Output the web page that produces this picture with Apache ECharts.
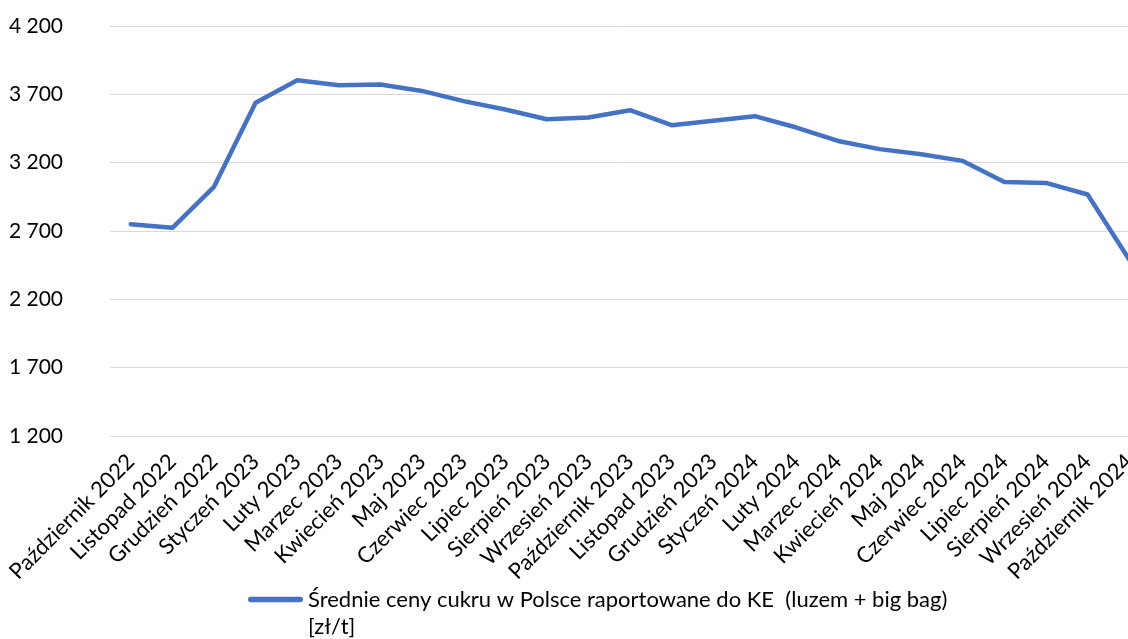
<!DOCTYPE html>
<html>
<head>
<meta charset="utf-8">
<script src="https://cdn.jsdelivr.net/npm/echarts@6/dist/echarts.min.js"></script>
<style>
html,body{margin:0;padding:0;background:#fff;}
#chart{width:1128px;height:639px;}
</style>
</head>
<body>
<div id="chart"></div>
<script>
const categories = [
  "Październik 2022","Listopad 2022","Grudzień 2022","Styczeń 2023","Luty 2023",
  "Marzec 2023","Kwiecień 2023","Maj 2023","Czerwiec 2023","Lipiec 2023",
  "Sierpień 2023","Wrzesień 2023","Październik 2023","Listopad 2023","Grudzień 2023",
  "Styczeń 2024","Luty 2024","Marzec 2024","Kwiecień 2024","Maj 2024",
  "Czerwiec 2024","Lipiec 2024","Sierpień 2024","Wrzesień 2024","Październik 2024"
];
const prices = [
  2750, 2723, 3023, 3638, 3803,
  3767, 3772, 3725, 3650, 3589,
  3518, 3530, 3584, 3474, 3506,
  3540, 3457, 3359, 3299, 3262,
  3213, 3059, 3052, 2967, 2491
];
const seriesName = "Średnie ceny cukru w Polsce raportowane do KE  (luzem + big bag)\n[zł/t]";
const yMin = 1200, yMax = 4200, yStep = 500;

const FONT = "Lato";
const legendIcon = 'path://M2.8,10.7 L52.2,10.7 A2.8,2.8 0 0 1 52.2,16.3 L2.8,16.3 A2.8,2.8 0 0 1 2.8,10.7 Z M0,0 L0,0 M55,54 L55,54';
const chart = echarts.init(document.getElementById('chart'), null, {renderer:'canvas'});
chart.setOption({
  animation:false,
  backgroundColor:'#fff',
  textStyle:{fontFamily:FONT},
  grid:{left:110, width:1040, top:26, bottom:203, containLabel:false, outerBoundsMode:'none'},
  xAxis:{
    type:'category',
    data:categories,
    boundaryGap:true,
    axisLine:{show:true, lineStyle:{color:'#d9d9d9', width:1}},
    axisTick:{show:false},
    axisLabel:{interval:0, rotate:45, margin:22, fontSize:22, color:'#000', fontFamily:FONT}
  },
  yAxis:{
    type:'value',
    min:yMin, max:yMax, interval:yStep,
    axisLine:{show:false},
    axisTick:{show:false},
    splitLine:{lineStyle:{color:'#d9d9d9', width:1}},
    axisLabel:{margin:47, fontSize:21, color:'#000', fontFamily:FONT,
      formatter:v=>String(v).replace(/\B(?=(\d{3})+(?!\d))/g,' ')}
  },
  legend:{
    left:243, top:581,
    itemWidth:55, itemHeight:54,
    icon:legendIcon,
    textStyle:{fontSize:22, color:'#000', fontFamily:FONT, lineHeight:27},
    data:[seriesName]
  },
  series:[{
    name:seriesName,
    type:'line',
    data:prices,
    symbol:'none',
    lineStyle:{color:'#4472C4', width:4.5, cap:'round', join:'round'},
    itemStyle:{color:'#4472C4'}
  }]
});
</script>
</body>
</html>
